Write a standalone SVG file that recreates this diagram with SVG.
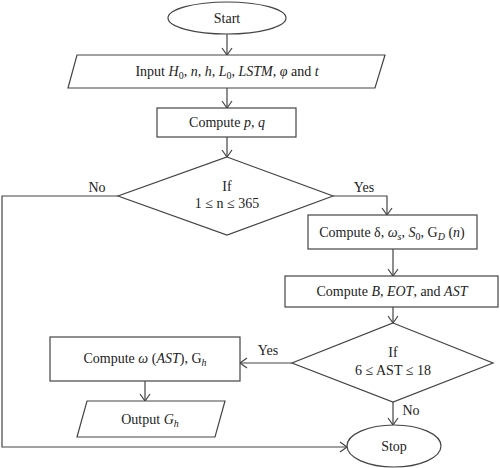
<svg xmlns="http://www.w3.org/2000/svg" width="500" height="468" viewBox="0 0 500 468">
<style>
.s{fill:#fff;stroke:#444;stroke-width:1.2}
.c{fill:none;stroke:#444;stroke-width:1.2}
text{font-family:"Liberation Serif","Times New Roman",serif;font-size:14px;fill:#222;text-anchor:middle}
.i{font-style:italic}
.sb{font-size:10px}
</style>
<defs>
<marker id="a" markerWidth="12" markerHeight="12" refX="9" refY="6" orient="auto" markerUnits="userSpaceOnUse">
<polyline points="2,1 9,6 2,11" fill="none" stroke="#444" stroke-width="1.2"/>
</marker>
</defs>
<rect width="500" height="468" fill="#fff"/>
<g id="connectors">
<line class="c" x1="227" y1="33" x2="227" y2="55" marker-end="url(#a)"/>
<line class="c" x1="227" y1="88" x2="227" y2="108" marker-end="url(#a)"/>
<line class="c" x1="227" y1="137" x2="227" y2="157" marker-end="url(#a)"/>
<polyline class="c" points="118,196 2,196 2,447 347,447" marker-end="url(#a)"/>
<polyline class="c" points="333,196 387,196 387,215" marker-end="url(#a)"/>
<line class="c" x1="393" y1="249" x2="393" y2="276" marker-end="url(#a)"/>
<line class="c" x1="393" y1="307" x2="393" y2="323" marker-end="url(#a)"/>
<line class="c" x1="292" y1="363" x2="240" y2="363" marker-end="url(#a)"/>
<line class="c" x1="145" y1="381" x2="145" y2="401" marker-end="url(#a)"/>
<line class="c" x1="393" y1="402" x2="393" y2="425" marker-end="url(#a)"/>
<text x="97" y="192">No</text>
<text x="364" y="192">Yes</text>
<text x="268" y="355">Yes</text>
<text x="411" y="415">No</text>
</g>
<g id="start">
<ellipse class="s" cx="227" cy="18" rx="59" ry="16"/>
<text x="227" y="23">Start</text>
</g>
<g id="input">
<polygon class="s" points="77,55 385,55 375,88 68,88"/>
<text x="227" y="76">Input <tspan class="i">H</tspan><tspan class="sb" dy="3">0</tspan><tspan dy="-3">, </tspan><tspan class="i">n</tspan>, <tspan class="i">h</tspan>, <tspan class="i">L</tspan><tspan class="sb" dy="3">0</tspan><tspan dy="-3">, </tspan><tspan class="i">LSTM</tspan>, <tspan class="i">φ</tspan> and <tspan class="i">t</tspan></text>
</g>
<g id="computepq">
<rect class="s" x="157" y="108" width="139" height="29"/>
<text x="227" y="127">Compute <tspan class="i">p</tspan>, <tspan class="i">q</tspan></text>
</g>
<g id="if1">
<polygon class="s" points="227,157 333,196 227,235 118,196"/>
<text x="227" y="191">If</text>
<text x="227" y="208">1 ≤ n ≤ 365</text>
</g>
<g id="computedelta">
<rect class="s" x="308" y="215" width="169" height="34"/>
<text x="392" y="237">Compute δ, <tspan class="i">ω</tspan><tspan class="sb i" dy="3">s</tspan><tspan dy="-3">, </tspan><tspan class="i">S</tspan><tspan class="sb" dy="3">0</tspan><tspan dy="-3">, G</tspan><tspan class="sb i" dy="3">D</tspan><tspan dy="-3"> (</tspan><tspan class="i">n</tspan>)</text>
</g>
<g id="computeb">
<rect class="s" x="285" y="276" width="213" height="31"/>
<text x="392" y="296">Compute <tspan class="i">B</tspan>, <tspan class="i">EOT</tspan>, and <tspan class="i">AST</tspan></text>
</g>
<g id="if2">
<polygon class="s" points="393,323 493,363 393,402 292,363"/>
<text x="393" y="357">If</text>
<text x="393" y="375">6 ≤ AST ≤ 18</text>
</g>
<g id="computeomega">
<rect class="s" x="50" y="337" width="190" height="44"/>
<text x="145" y="363">Compute <tspan class="i">ω</tspan> (<tspan class="i">AST</tspan>), G<tspan class="sb i" dy="3">h</tspan></text>
</g>
<g id="output">
<polygon class="s" points="87,401 225,401 215,437 77,437"/>
<text x="150" y="424">Output <tspan class="i">G</tspan><tspan class="sb i" dy="3">h</tspan></text>
</g>
<g id="stop">
<ellipse class="s" cx="394" cy="446" rx="47" ry="21"/>
<text x="394" y="451">Stop</text>
</g>
</svg>
